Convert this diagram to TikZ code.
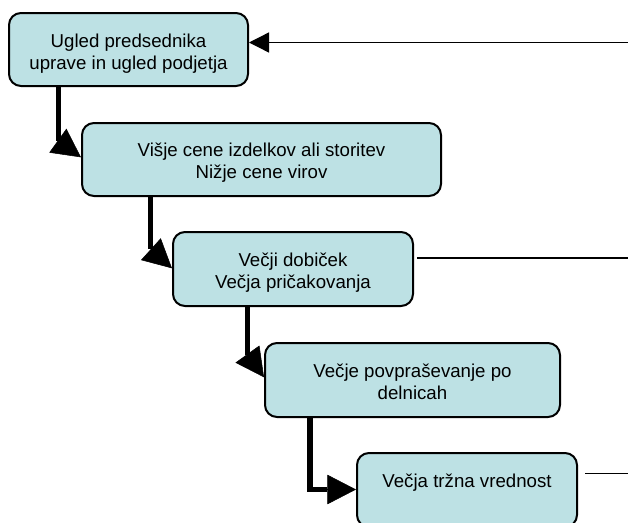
\documentclass[tikz,border=0pt]{standalone}
\usepackage{fontspec}
\setmainfont{Liberation Sans}
\usetikzlibrary{arrows.meta,fit,calc}
\definecolor{boxfill}{RGB}{189,225,228}
\begin{document}
\begin{tikzpicture}[x=0.75pt,y=-0.75pt,
  box/.style={draw=black, line width=1.5pt, fill=boxfill, rounded corners=9pt, inner sep=0pt},
  txt/.style={anchor=base, align=center, inner sep=0pt, font=\fontsize{14}{16.3}\selectfont},
  link/.style={line width=4pt},
  bighead/.style={-{Triangle[length=21.4pt,width=22pt]}, line width=0.4pt},
  feed/.style={line width=1pt},
  smallhead/.style={-{Triangle[length=15pt,width=15pt]}, line width=1pt}]
\useasboundingbox (0,0) rectangle (628,522);
\clip (0,0) rectangle (628,522);

% boxes of the chain
\node[box, fit={(9,13) (248,86)}] (b1) {};
\node[box, fit={(82,123) (441,196)}] (b2) {};
\node[box, fit={(173,232) (413,306)}] (b3) {};
\node[box, fit={(265,343) (560,417)}] (b4) {};
\node[box, fit={(357,453) (577,527)}] (b5) {};

% box texts (the base anchor sits on the last line)
\node[txt] (t1) at ([yshift=-42.8pt]b1.north) {Ugled predsednika\\uprave in ugled podjetja};
\node[txt] (t2) at ([yshift=-42.3pt]b2.north) {Višje cene izdelkov ali storitev\\Nižje cene virov};
\node[txt] (t3) at ([yshift=-42.8pt]b3.north) {Večji dobiček\\Večja pričakovanja};
\node[txt] (t4) at ([yshift=-42.8pt]b4.north) {Večje povpraševanje po\\delnicah};
\node[txt] (t5) at ([yshift=-26.5pt]b5.north) {Večja tržna vrednost};

% thick step connectors
\coordinate (e1) at (58.3,141);
\draw[link] (b1.south -| e1) -- (e1);
\draw[bighead] (e1) -- (b2.west |- 0,157.3);

\coordinate (e2) at (150.7,249);
\draw[link] (b2.south -| e2) -- (e2);
\draw[bighead] (e2) -- (b3.west |- 0,268.3);

\coordinate (e3) at (247.7,354.5);
\draw[link] (b3.south -| e3) -- (e3);
\draw[bighead] (e3) -- (b4.west |- 0,377.3);

\coordinate (c4) at (310,489.5);
\coordinate (e4) at (327,489.5);
\draw[link] (b4.south -| c4) -- (c4) -- (e4);
\draw[bighead] (e4) -- (b5.west |- e4);

% feedback lines at the right
\coordinate (r1) at (628,42.5);
\draw[smallhead] (r1) -- (b1.east |- r1);
\coordinate (r2) at (628,258);
\draw[feed] (r2) -- ($(r2 -| b3.east)+(3,0)$);
\coordinate (r3) at (628,473.3);
\draw[feed] (r3) -- ($(r3 -| b5.east)+(7,0)$);
\end{tikzpicture}
\end{document}
